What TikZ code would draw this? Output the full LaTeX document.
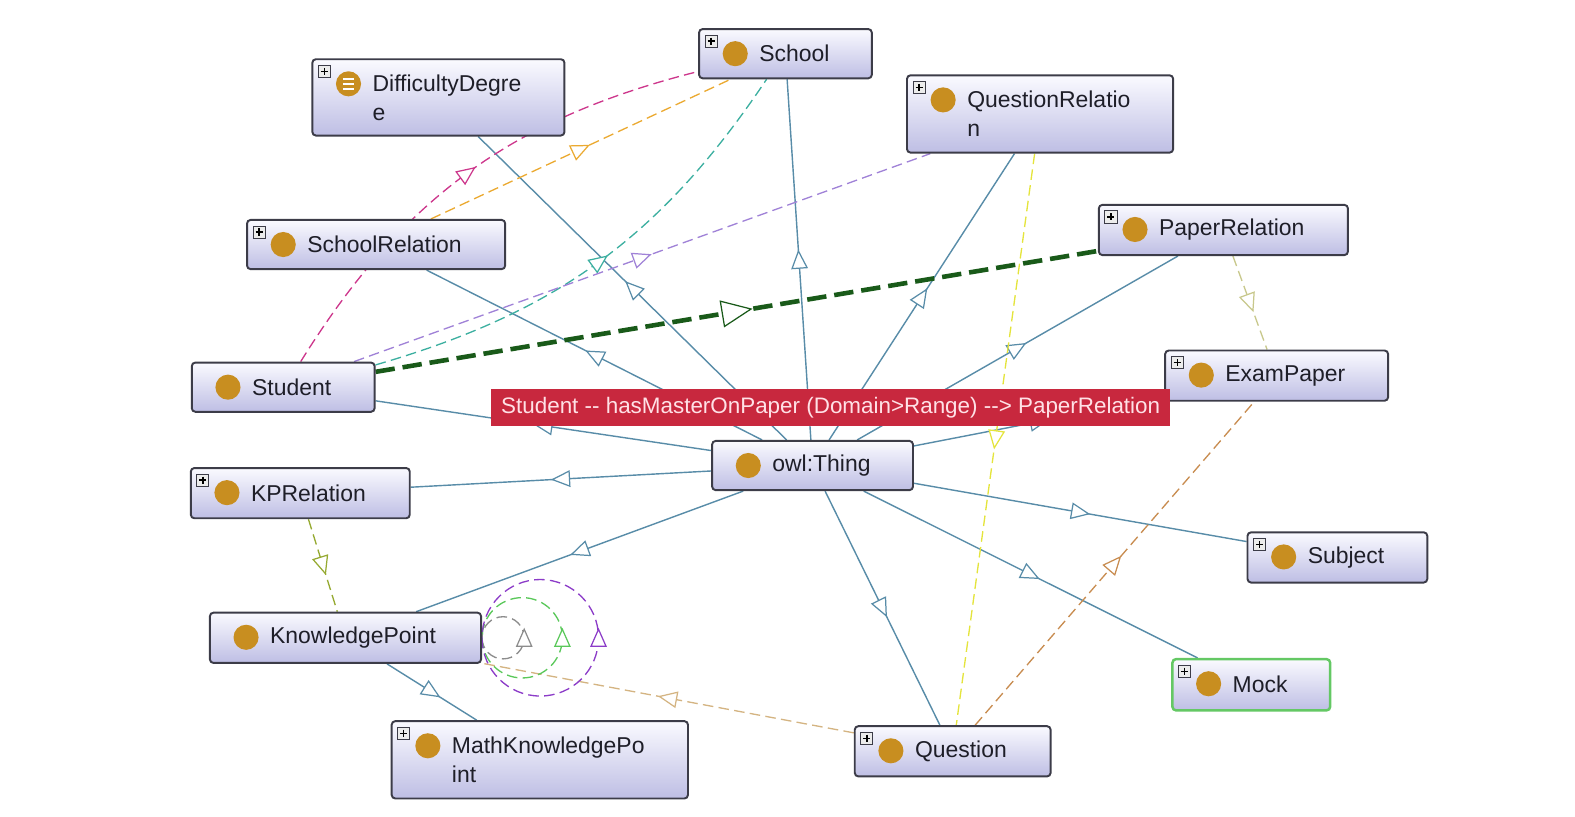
\documentclass[tikz,border=0pt]{standalone}
\usepackage{fontspec}
\setmainfont{Liberation Sans}
\usetikzlibrary{decorations.markings,backgrounds}

\definecolor{boxline}{RGB}{60,60,72}
\definecolor{boxtop}{RGB}{250,250,255}
\definecolor{boxbot}{RGB}{190,190,228}
\definecolor{iconC}{RGB}{200,142,32}
\definecolor{isaC}{RGB}{88,140,168}
\definecolor{magC}{RGB}{205,55,140}
\definecolor{oraC}{RGB}{235,170,50}
\definecolor{tealC}{RGB}{60,175,160}
\definecolor{lavC}{RGB}{160,130,215}
\definecolor{hotC}{RGB}{25,90,25}
\definecolor{yelC}{RGB}{228,228,60}
\definecolor{olvC}{RGB}{200,200,140}
\definecolor{brnC}{RGB}{200,140,80}
\definecolor{tanC}{RGB}{212,180,130}
\definecolor{kpC}{RGB}{150,170,50}
\definecolor{loopgray}{RGB}{140,140,140}
\definecolor{loopgreen}{RGB}{90,200,90}
\definecolor{looppurple}{RGB}{140,60,200}
\definecolor{mockC}{RGB}{100,200,100}
\definecolor{tipC}{RGB}{200,40,62}
\definecolor{tipText}{RGB}{255,225,230}
\definecolor{textC}{RGB}{30,30,40}

\newcommand{\clsfont}{\fontsize{13}{16.5}\selectfont}
\newcommand{\tipfont}{\fontsize{12.7}{15}\selectfont}
\newcommand{\clsicon}{\fill[iconC] ([shift={(0.72cm,-0.49cm)}]path picture bounding box.north west) circle[radius=0.25cm];}
\newcommand{\plusicon}{%
  \draw[boxline, fill=white!85!gray, line width=0.5pt, sharp corners] ([shift={(0.12cm,-0.12cm)}]path picture bounding box.north west) rectangle ++(0.24cm,-0.24cm);
  \draw[black, line width=0.8pt] ([shift={(0.17cm,-0.24cm)}]path picture bounding box.north west) -- ++(0.14cm,0)
    ([shift={(0.24cm,-0.17cm)}]path picture bounding box.north west) -- ++(0,-0.14cm);}
\newcommand{\enumicon}{%
  \draw[white, line width=0.8pt] ([shift={(0.61cm,-0.39cm)}]path picture bounding box.north west) -- ++(0.22cm,0)
    ++(-0.22cm,-0.1cm) -- ++(0.22cm,0) ++(-0.22cm,-0.1cm) -- ++(0.22cm,0);}

\tikzset{
  cls/.style={draw=boxline, line width=1.1pt, rounded corners=2pt, top color=boxtop, bottom color=boxbot,
    anchor=north west, inner sep=0pt, align=left, font=\clsfont, text=textC,
    execute at begin node={\leftskip=1.2cm}, path picture={\clsicon}},
  clsplus/.style={cls, path picture={\clsicon\plusicon}},
  midtri/.style={postaction={decorate, decoration={markings,
    mark=at position 0.5 with {\draw[solid, fill=white, line width=0.7pt, scale=#1]
      (0.17cm,0) -- (-0.17cm,0.15cm) -- (-0.17cm,-0.15cm) -- cycle;}}}},
  midtri/.default=1,
  isa/.style={color=isaC, line width=0.8pt, midtri},
  rel/.style={color=#1, line width=0.75pt, dash pattern=on 6pt off 3pt, midtri},
  hot/.style={color=hotC, line width=2.6pt, dash pattern=on 11pt off 4.5pt, midtri=1.7},
  tip/.style={fill=tipC, text=tipText, minimum width=13.52cm, minimum height=0.74cm, inner sep=0pt, font=\tipfont}
}

\begin{document}
\begin{tikzpicture}[x=0.02cm, y=-0.02cm]
  \useasboundingbox (0,0) rectangle (1568,813);

  % Classes
  \node[clsplus, text width=5.02cm, minimum height=1.52cm, path picture={\clsicon\enumicon\plusicon}] (dd) at (310,58) {DifficultyDegre\\e};
  \node[clsplus, text width=3.44cm, minimum height=0.98cm] (school) at (695,28) {School};
  \node[clsplus, text width=5.30cm, minimum height=1.54cm] (qrel) at (902,74) {QuestionRelatio\\n};
  \node[clsplus, text width=5.14cm, minimum height=0.98cm] (srel) at (245,218) {SchoolRelation};
  \node[clsplus, text width=4.96cm, minimum height=1.00cm] (prel) at (1093,203) {PaperRelation};
  \node[cls, text width=3.64cm, minimum height=0.98cm] (student) at (190,360) {Student};
  \node[clsplus, text width=4.44cm, minimum height=1.00cm] (exam) at (1159,348) {ExamPaper};
  \node[cls, text width=4.00cm, minimum height=0.98cm] (thing) at (708,438) {owl:Thing};
  \node[clsplus, text width=4.36cm, minimum height=1.00cm] (kprel) at (189,465) {KPRelation};
  \node[clsplus, text width=3.58cm, minimum height=1.00cm] (subject) at (1241,529) {Subject};
  \node[cls, text width=5.40cm, minimum height=1.00cm] (kp) at (208,609) {KnowledgePoint};
  \node[clsplus, draw=mockC, line width=1.4pt, text width=3.14cm, minimum height=1.02cm] (mock) at (1166,655) {Mock};
  \node[clsplus, text width=5.90cm, minimum height=1.54cm] (mkp) at (389,717) {MathKnowledgePo\\int};
  \node[clsplus, text width=3.90cm, minimum height=1.00cm] (question) at (850,722) {Question};

  \begin{pgfonlayer}{background}
    % Subclass edges
    \draw[isa] (thing) -- (dd);
    \draw[isa] (thing) -- (school);
    \draw[isa] (thing) -- (qrel);
    \draw[isa] (thing) -- (prel);
    \draw[isa] (thing) -- (srel);
    \draw[isa] (thing) -- (student);
    \draw[isa] (thing) -- (exam);
    \draw[isa] (thing) -- (kprel);
    \draw[isa] (thing) -- (kp);
    \draw[isa] (thing) -- (question);
    \draw[isa] (thing) -- (mock);
    \draw[isa] (thing) -- (subject);
    \draw[isa] (kp) -- (mkp);

    % Object properties
    \draw[rel=magC] (student) to[bend left=22] (school);
    \draw[rel=tealC] (student) to[bend right=20] (school);
    \draw[rel=oraC] (srel) -- (school);
    \draw[rel=lavC] (student) -- (qrel);
    \draw[rel=yelC] (qrel) -- (question);
    \draw[rel=olvC] (prel) -- (exam);
    \draw[rel=brnC] (question) -- (exam);
    \draw[rel=tanC] (question) -- (kp);
    \draw[rel=kpC] (kprel) -- (kp);
    \draw[hot] (student) -- (prel);

    % Self loops
    \draw[rel=loopgray] (kp.east) arc[start angle=180, end angle=540, radius=0.42cm];
    \draw[rel=loopgreen] (kp.east) arc[start angle=180, end angle=540, radius=0.8cm];
    \draw[rel=looppurple] (kp.east) arc[start angle=180, end angle=540, radius=1.16cm];
  \end{pgfonlayer}

  % Tooltip
  \node[tip] (tip) at (827,405.5) {Student -{}- hasMasterOnPaper (Domain>Range) -{}-> PaperRelation};
\end{tikzpicture}
\end{document}
